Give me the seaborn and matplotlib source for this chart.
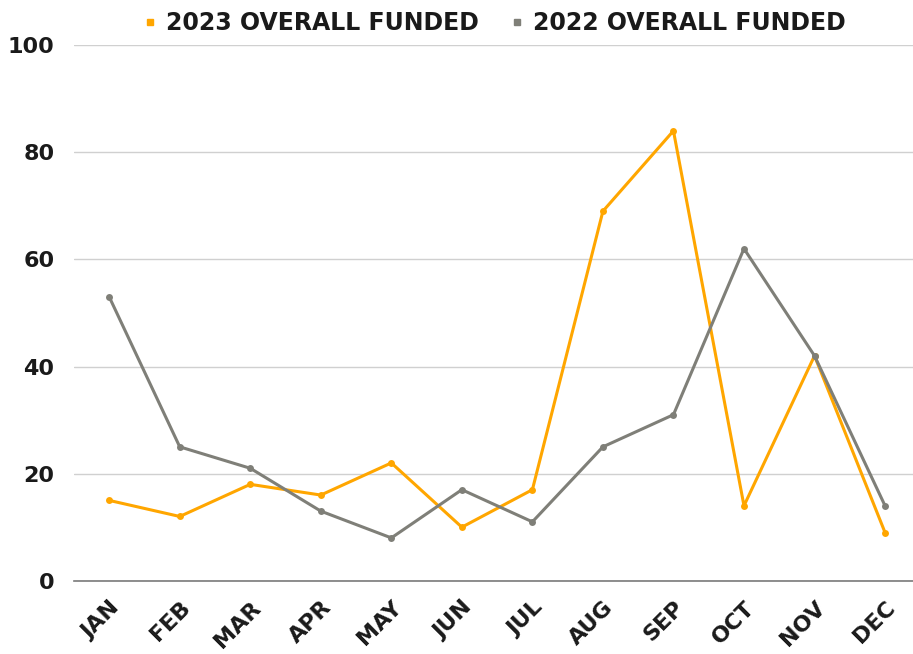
import pandas as pd
import matplotlib.pyplot as plt
import seaborn as sns
from matplotlib.lines import Line2D

# donnees
months = ["JAN", "FEB", "MAR", "APR", "MAY", "JUN", "JUL", "AUG", "SEP", "OCT", "NOV", "DEC"]
funded_2023 = [15, 12, 18, 16, 22, 10, 17, 69, 84, 14, 42, 9]
funded_2022 = [53, 25, 21, 13, 8, 17, 11, 25, 31, 62, 42, 14]
series_names = ["2023 OVERALL FUNDED", "2022 OVERALL FUNDED"]
colors = ["#FFA600", "#7F7F78"]

df = pd.DataFrame({
    "month": months * 2,
    "x": list(range(len(months))) * 2,
    "value": funded_2023 + funded_2022,
    "serie": [series_names[0]] * 12 + [series_names[1]] * 12,
})

sns.set_style("white")
plt.rcParams["font.family"] = ["DejaVu Sans"]

fig = plt.figure(figsize=(9.13, 6.54), dpi=100)
ax = fig.add_axes([0.081, 0.112, 0.927, 0.819])

sns.lineplot(data=df, x="x", y="value", hue="serie", palette=dict(zip(series_names, colors)),
             marker="o", markersize=5, markeredgewidth=0, linewidth=2.2, ax=ax, legend=False)

ax.set_xlim(-0.5, 11.5)
ax.set_ylim(0, 100)
ax.set_yticks([0, 20, 40, 60, 80, 100])
ax.set_xticks(range(len(months)))
ax.set_xticklabels(months, rotation=45, ha="right", rotation_mode="anchor")
ax.tick_params(axis="y", length=0, labelsize=16, pad=14)
ax.tick_params(axis="x", length=0, labelsize=16, pad=12)
for lab in ax.get_xticklabels() + ax.get_yticklabels():
    lab.set_fontweight("heavy")
    lab.set_color("#1a1a1a")
ax.yaxis.grid(True, color="#d0d0d0", linewidth=1)
ax.set_xlabel("")
ax.set_ylabel("")
for s in ["top", "right", "left"]:
    ax.spines[s].set_visible(False)
ax.spines["bottom"].set_color("#7a7a7a")
ax.spines["bottom"].set_linewidth(1.2)

# legende
handles = [Line2D([], [], marker="s", linestyle="", color=c, markersize=5) for c in colors]
leg = fig.legend(handles, series_names, loc="center", bbox_to_anchor=(0.54, 0.965), ncol=2,
                 frameon=False, prop={"size": 17, "weight": "heavy"},
                 handlelength=0.8, handletextpad=0.3, columnspacing=1.2)
for t in leg.get_texts():
    t.set_color("#1a1a1a")

fig.savefig("out.png", dpi=100)
